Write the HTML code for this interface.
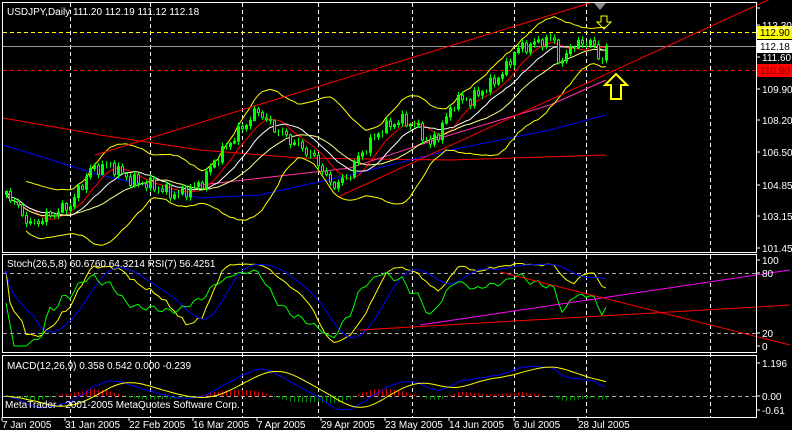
<!DOCTYPE html>
<html><head><meta charset="utf-8"><style>
html,body{margin:0;padding:0;background:#000;}
svg{display:block;}
text{font-family:"Liberation Sans",sans-serif;font-size:10px;fill:#fff;}
</style></head><body>
<svg id="s" width="792" height="430" xmlns="http://www.w3.org/2000/svg">
<rect width="792" height="430" fill="#000"/>
<g id="grid" stroke="#fff" stroke-dasharray="4,3" stroke-width="1"></g>
<g id="plot"></g>
<g fill="none" stroke="#fff" stroke-width="1">
<rect x="2.5" y="2.5" width="754" height="250"/>
<rect x="2.5" y="254.5" width="754" height="98"/>
<rect x="2.5" y="355.5" width="754" height="62"/>
</g>
<text x="7" y="15">USDJPY,Daily  111.20 112.19 111.12 112.18</text>
<text x="7" y="267">Stoch(26,5,8) 60.6760 64.3214  RSI(7) 56.4251</text>
<text x="7" y="369">MACD(12,26,9) 0.358 0.542 0.000 -0.239</text>
<text x="5" y="408">MetaTrader - 2001-2005 MetaQuotes Software Corp.</text>
<g id="ax" stroke="#fff"></g>
<rect x="757" y="26" width="35" height="13" fill="#ff0"/>
<text x="760" y="36" style="fill:#000">112.90</text>
<rect x="757" y="40" width="35" height="13" fill="#fff"/>
<text x="760" y="50" style="fill:#000">112.18</text>
<rect x="757" y="64" width="35" height="13" fill="#f00"/>
<text x="760" y="74" style="fill:#800">110.90</text>
<text x="762" y="29">113.30</text>
<text x="762" y="61">111.60</text>
<text x="762" y="93">109.90</text>
<text x="762" y="124">108.20</text>
<text x="762" y="156">106.50</text>
<text x="762" y="189">104.85</text>
<text x="762" y="220">103.15</text>
<text x="762" y="252">101.45</text>
<text x="762" y="264">100</text>
<text x="762" y="277">80</text>
<text x="762" y="337">20</text>
<text x="762" y="350">0</text>
<text x="762" y="367">1.196</text>
<text x="762" y="400">0.00</text>
<text x="762" y="414">-0.61</text>
<text x="2" y="428">7 Jan 2005</text>
<text x="65" y="428">31 Jan 2005</text>
<text x="129" y="428">22 Feb 2005</text>
<text x="193" y="428">16 Mar 2005</text>
<text x="257" y="428">7 Apr 2005</text>
<text x="321" y="428">29 Apr 2005</text>
<text x="385" y="428">23 May 2005</text>
<text x="449" y="428">14 Jun 2005</text>
<text x="514" y="428">6 Jul 2005</text>
<text x="578" y="428">28 Jul 2005</text>
</svg>
<script>
var NS="http://www.w3.org/2000/svg",P=document.getElementById('plot'),G=document.getElementById('grid'),AX=document.getElementById('ax');
function el(t,a,p){var e=document.createElementNS(NS,t);for(var k in a)e.setAttribute(k,a[k]);(p||P).appendChild(e);return e;}
function pl(pts,c,w,d){var a={points:pts.map(function(p){return p[0].toFixed(1)+','+p[1].toFixed(1)}).join(' '),fill:'none',stroke:c,'stroke-width':w||1};if(d)a['stroke-dasharray']=d;el('polyline',a);}
[70,150,242,318,412,514,586,710].forEach(function(x){el('line',{x1:x+.5,y1:3,x2:x+.5,y2:417},G);});
[[273],[333],[396]].forEach(function(y){el('line',{x1:3,y1:y[0]+.5,x2:756,y2:y[0]+.5,stroke:'#aaa','stroke-dasharray':'4,3'});});
[8,25,57,89,120,152,185,216,248,260,273,333,346,363,396,410].forEach(function(y){el('line',{x1:756,y1:y,x2:760,y2:y},AX);});
[2,65,129,193,257,321,385,449,514,578].forEach(function(x){el('line',{x1:x,y1:417,x2:x,y2:421},AX);});
el('line',{x1:3,y1:32.5,x2:756,y2:32.5,stroke:'#ff0','stroke-dasharray':'4,3'});
el('line',{x1:3,y1:46.5,x2:756,y2:46.5,stroke:'#999'});
el('line',{x1:3,y1:70.5,x2:756,y2:70.5,stroke:'#f00','stroke-dasharray':'4,3'});
var K=[[5,190],[30,225],[50,215],[70,205],[90,170],[110,165],[130,180],[150,185],[175,195],[200,185],[215,160],[240,130],[258,110],[270,125],[290,140],[305,150],[320,165],[330,185],[345,180],[360,155],[380,130],[400,120],[415,125],[430,145],[440,130],[455,100],[470,100],[490,85],[505,70],[515,50],[530,45],[545,40],[555,40],[560,70],[570,45],[580,45],[590,40],[600,62],[606,46]];
function interp(x){for(var i=1;i<K.length;i++){if(x<=K[i][0]){var a=K[i-1],b=K[i],t=(x-a[0])/(b[0]-a[0]);return a[1]+t*(b[1]-a[1]);}}return K[K.length-1][1];}
var N=151,X=[],C=[],O=[],H=[],L=[];
for(var i=0;i<N;i++){var x=6+4*i;X.push(x);var c=interp(x)+4*Math.sin(i*1.7)+3*Math.sin(i*3.1);C.push(c);}
C[N-1]=46;
for(var i=0;i<N;i++){O[i]=i?C[i-1]:C[i]+3;H[i]=Math.min(O[i],C[i])-1-3*Math.abs(Math.sin(i*2.3));L[i]=Math.max(O[i],C[i])+1+3*Math.abs(Math.cos(i*1.9));}
var py=C.map(function(y){return 113.30-(y-25)/18.8});
function sma(a,n){return a.map(function(v,i){var s=0,k=0;for(var j=Math.max(0,i-n+1);j<=i;j++){s+=a[j];k++;}return s/k;});}
function ema(a,n){var r=[],k=2/(n+1);a.forEach(function(v,i){r.push(i?r[i-1]+k*(v-r[i-1]):v);});return r;}
var m20=sma(C,20),up=[],dn=[];
for(var i=0;i<N;i++){var s=0,k=0;for(var j=Math.max(0,i-19);j<=i;j++){s+=(C[j]-m20[i])*(C[j]-m20[i]);k++;}var sd=Math.sqrt(s/k);up.push([X[i],m20[i]-2*sd-4]);dn.push([X[i],m20[i]+2*sd+4]);}
pl([[3,118],[100,135],[200,150],[300,158],[450,160],[606,155]],'#f00',1);
pl([[3,145],[100,175],[200,198],[260,195],[350,175],[450,150],[550,130],[606,115]],'#00f',1);
pl([[200,185],[350,168],[450,135],[550,105],[606,80]],'#f3a',1);
pl(up.slice(5),'#ff0',1);pl(dn.slice(5),'#ff0',1);
pl(sma(C,8).map(function(v,i){return [X[i],v]}),'#f00',1);
pl(sma(C,13).map(function(v,i){return [X[i],v]}),'#fff',1);
pl(sma(C,21).map(function(v,i){return [X[i],v+3]}),'#ff8',1);
for(var i=0;i<N;i++){var x=X[i];el('line',{x1:x+.5,y1:H[i],x2:x+.5,y2:L[i],stroke:'#0f0'});var t=Math.min(O[i],C[i]),b=Math.max(O[i],C[i]);if(b-t>1.5)el('rect',{x:x-.5,y:t,width:2,height:b-t,fill:C[i]<O[i]?'#0f0':'#000',stroke:'#0f0','stroke-width':1});}
pl([[95,155],[590,3]],'#f00',1);
pl([[340,196],[790,-10]],'#f00',1);
el('path',{d:'M601,16 h6 v6 h4 l-7,7 l-7,-7 h4z',fill:'none',stroke:'#ff0'});
el('path',{d:'M616,74 l11,11 h-6 v14 h-10 v-14 h-6z',fill:'none',stroke:'#ff0','stroke-width':2});
el('path',{d:'M594,3 h12 l-6,7z',fill:'#888'});
function sy(v){return 346-v*0.86;}
var hp=H.map(function(y){return 113.30-(y-25)/18.8}),lp=L.map(function(y){return 113.30-(y-25)/18.8});
var k=[];for(var i=0;i<N;i++){var hh=-1e9,ll=1e9;for(var j=Math.max(0,i-25);j<=i;j++){hh=Math.max(hh,hp[j]);ll=Math.min(ll,lp[j]);}k.push(100*(py[i]-ll)/Math.max(0.01,hh-ll));}
var ks=sma(k,5),ds=sma(ks,8);
pl(ks.map(function(v,i){return [X[i],sy(v)]}),'#ff0',1);
pl(ds.map(function(v,i){return [X[i],sy(v)]}),'#00f',1);
var rsi=[50],ag=0,al=0;for(var i=1;i<N;i++){var d=py[i]-py[i-1];ag=(ag*6+Math.max(d,0))/7;al=(al*6+Math.max(-d,0))/7;rsi.push(al==0?70:100-100/(1+ag/al));}
rsi=sma(rsi,2);
pl(rsi.map(function(v,i){return [X[i],sy(v)]}),'#0f0',1);
pl([[420,325],[790,270]],'#f0f',1);
pl([[360,330],[790,305]],'#f00',1);
pl([[500,272],[790,345]],'#f00',1);
var e26=ema(py,26),mac=ema(py,12).map(function(v,i){return v-e26[i]}),sig=sma(mac,9);
function my(v){return 396-v*27.6;}
for(var i=0;i<N;i++){var h=mac[i]-sig[i];el('line',{x1:X[i]+.5,y1:396,x2:X[i]+.5,y2:my(h*0.7),stroke:h>0?'#d00':'#080'});}
pl(mac.map(function(v,i){return [X[i],my(v)]}),'#00f',1);
pl(sig.map(function(v,i){return [X[i],my(v)]}),'#ff0',1);
</script>
</body></html>
